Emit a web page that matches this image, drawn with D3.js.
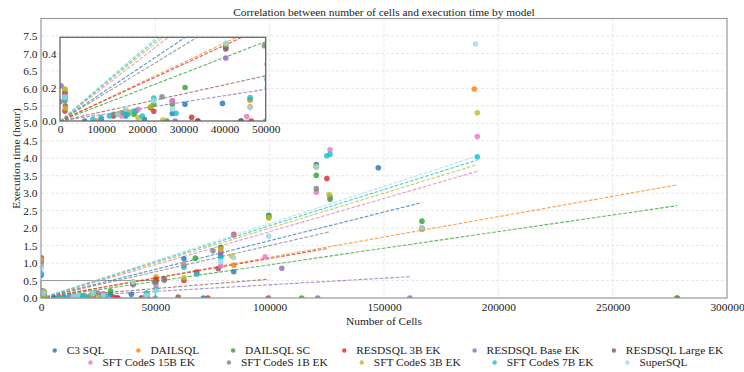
<!DOCTYPE html>
<html>
<head>
<meta charset="utf-8">
<script src="https://cdn.jsdelivr.net/npm/d3@7"></script>
<style>
  html, body { margin: 0; padding: 0; background: #fff; }
  svg { display: block; }
  text { font-family: "Liberation Serif", "DejaVu Serif", serif; fill: #222; }
</style>
</head>
<body>
<svg id="chart" width="744" height="372"></svg>
<script>
// Models, in drawing / legend order
const models = [
  "C3 SQL", "DAILSQL", "DAILSQL SC", "RESDSQL 3B EK", "RESDSQL Base EK",
  "RESDSQL Large EK", "SFT CodeS 15B EK", "SFT CodeS 1B EK", "SFT CodeS 3B EK",
  "SFT CodeS 7B EK", "SuperSQL"
];
const colors = [
  "#1f77b4", "#ff7f0e", "#2ca02c", "#d62728", "#9467bd",
  "#8c564b", "#e377c2", "#7f7f7f", "#bcbd22", "#17becf", "#9edae5"
];

// [number of cells, execution time in hours] for each model
const c3Sql = [[100,0.65],[1200,0.14],[6000,0],[10000,0.01],[16000,0.03],[20500,0.01],[27300,0.045],
  [30400,0.10],[33500,0],[39500,0.105],[40300,0.44],[44000,0],[62500,1.12],[71000,0],[78600,1.20],
  [84300,0.75],[99600,2.37],[120400,3.82],[147500,3.73],[166600,2.0]];
const dailSql = [[100,1.1],[1200,0.19],[9000,0],[15000,0.05],[22000,0.08],[46200,0.085],[50300,0.60],
  [62500,0.95],[78600,1.35],[84300,0.94],[99600,2.30],[120400,3.75],[166600,1.97],[189500,5.98],[278200,0]];
const dailSqlSc = [[100,1.05],[1200,0.17],[18000,0.04],[22800,0.10],[26000,0],[27300,0.10],[30400,0.20],
  [50300,0.45],[67500,1.14],[99600,2.33],[114000,0],[120400,3.51],[126400,2.83],[166600,2.20],[278200,0]];
const resdsql3b = [[100,1.15],[1200,0.06],[13000,0.03],[16000,0.06],[22800,0.058],[32000,0.022],
  [33500,0],[46500,0],[50300,0.53],[62500,0.50],[68100,0.74],[73000,0],[125000,3.42]];
const resdsqlBase = [[250,0.21],[0,0.115],[18500,0.06],[27300,0.12],[28000,0],[40300,0.376],
  [78600,1.28],[105300,0.85],[121000,0],[161300,0]];
const resdsqlLarge = [[1200,0.165],[1300,0.09],[14000,0.04],[22000,0.08],[40300,0.43],[44000,0],
  [46200,0.125],[53900,0.55],[60000,0.03],[77500,0.84],[78600,1.45],[84300,1.82],[99400,0]];
const sftCodes15b = [[100,0.93],[1200,0.15],[15000,0.03],[19000,0.07],[27300,0.115],[45400,0.026],
  [50300,0.34],[62500,0.94],[78600,0.92],[84300,1.80],[98000,1.18],[120400,3.03],[126400,4.24],[190800,4.62]];
const sftCodes1b = [[100,1.05],[1200,0.12],[13000,0.04],[24800,0.145],[40300,0.45],[49700,0.45],
  [53900,0.50],[75200,1.35],[120400,3.13],[126400,2.90]];
const sftCodes3b = [[100,1.1],[1200,0.19],[1300,0.076],[17000,0.05],[19000,0.02],[22000,0.085],
  [25000,0.005],[40300,0.46],[46200,0.13],[62500,0.58],[78600,1.40],[83500,1.20],[99600,2.30],
  [120400,3.76],[126000,2.96],[190800,5.30]];
const sftCodes7b = [[100,0.70],[1200,0.135],[8000,0.01],[10000,0.02],[12000,0.03],[15500,0.05],
  [16500,0.04],[18000,0.06],[20000,0.03],[22800,0.137],[28200,0.046],[46200,0.14],[50000,0],
  [50300,0.25],[62500,0.88],[68100,0.68],[78600,1.15],[125000,4.07],[126400,4.11],[190800,4.04]];
const superSql = [[100,0.85],[1200,0.14],[14000,0.04],[16000,0.07],[22800,0.12],[27300,0.072],
  [40300,0.465],[46200,0.08],[50300,0.20],[78600,1.06],[84300,1.15],[99600,1.77],[120400,3.74],
  [166600,2.01],[190000,7.27]];

const seriesPoints = [c3Sql, dailSql, dailSqlSc, resdsql3b, resdsqlBase, resdsqlLarge,
  sftCodes15b, sftCodes1b, sftCodes3b, sftCodes7b, superSql];

// Linear trend per model: slope (hours per cell) and last x covered by the fit
const trendSlope = [1.64e-5, 1.164e-5, 9.5e-6, 1.13e-5, 3.78e-6, 5.4e-6, 1.90e-5, 1.50e-5, 2.00e-5, 2.07e-5, 2.13e-5];
const trendEnd = [166600, 278200, 278200, 125000, 161300, 99400, 190800, 126400, 190800, 190800, 190800];

// Axis tick values
const xTicks = [0, 50000, 100000, 150000, 200000, 250000, 300000];
const yTicks = d3.range(0, 7.51, 0.5);
const insetXTicks = [0, 10000, 20000, 30000, 40000, 50000];
const insetYTicks = [0, 0.2, 0.4];

const FONT = "11.4px";
const svg = d3.select("#chart");

// Main axes frame
const M = { left: 41, right: 727, top: 18.5, bottom: 298 };
const x = d3.scaleLinear().domain([0, 300000]).range([M.left, M.right]);
const y = d3.scaleLinear().domain([0, 8]).range([M.bottom, M.top]);

// Inset frame (zoom on the low-cell corner)
const I = { left: 60, right: 265.7, top: 37.3, bottom: 121 };
const xi = d3.scaleLinear().domain([0, 50000]).range([I.left, I.right]);
const yi = d3.scaleLinear().domain([0, 0.5]).range([I.bottom, I.top]);

const defs = svg.append("defs");
defs.append("clipPath").attr("id", "clipMain").append("rect")
  .attr("x", M.left).attr("y", M.top).attr("width", M.right - M.left).attr("height", M.bottom - M.top);
defs.append("clipPath").attr("id", "clipInset").append("rect")
  .attr("x", I.left).attr("y", I.top).attr("width", I.right - I.left).attr("height", I.bottom - I.top);

// Grid
const grid = svg.append("g");
grid.selectAll("line.gx").data(xTicks.slice(1, -1)).join("line")
  .attr("x1", d => x(d)).attr("x2", d => x(d)).attr("y1", M.top).attr("y2", M.bottom)
  .attr("stroke", "#e0e0e0").attr("stroke-width", 0.8).attr("stroke-dasharray", "3,2");
grid.selectAll("line.gy").data(yTicks.slice(1)).join("line")
  .attr("y1", d => y(d)).attr("y2", d => y(d)).attr("x1", M.left).attr("x2", M.right)
  .attr("stroke", "#e0e0e0").attr("stroke-width", 0.8).attr("stroke-dasharray", "3,2");

// Region shown by the inset
svg.append("rect")
  .attr("x", x(0)).attr("y", y(0.5)).attr("width", x(50000) - x(0)).attr("height", y(0) - y(0.5))
  .attr("fill", "none").attr("stroke", "#9a9a9a").attr("stroke-width", 1);

function drawSeries(g, sx, sy) {
  seriesPoints.forEach((pts, i) => {
    g.append("line")
      .attr("x1", sx(0)).attr("y1", sy(0))
      .attr("x2", sx(trendEnd[i])).attr("y2", sy(trendSlope[i] * trendEnd[i]))
      .attr("stroke", colors[i]).attr("stroke-width", 1.1).attr("stroke-opacity", 0.75)
      .attr("stroke-dasharray", "3.7,1.6");
  });
  seriesPoints.forEach((pts, i) => {
    g.selectAll(null).data(pts).join("circle")
      .attr("cx", d => sx(d[0])).attr("cy", d => sy(d[1])).attr("r", 2.8)
      .attr("fill", colors[i]).attr("fill-opacity", 0.8);
  });
}

const mainG = svg.append("g").attr("clip-path", "url(#clipMain)");
drawSeries(mainG, x, y);

// Main border and axes
svg.append("rect").attr("x", M.left).attr("y", M.top)
  .attr("width", M.right - M.left).attr("height", M.bottom - M.top)
  .attr("fill", "none").attr("stroke", "#9a9a9a").attr("stroke-width", 1.2);

const xAxis = svg.append("g").attr("transform", `translate(0,${M.bottom})`)
  .call(d3.axisBottom(x).tickValues(xTicks).tickFormat(d3.format("d")).tickSize(0).tickPadding(5));
const yAxis = svg.append("g").attr("transform", `translate(${M.left},0)`)
  .call(d3.axisLeft(y).tickValues(yTicks).tickFormat(d3.format(".1f")).tickSize(0).tickPadding(3.5));
[xAxis, yAxis].forEach(a => {
  a.select(".domain").remove();
  a.selectAll("text").style("font-family", '"Liberation Serif", serif').style("font-size", FONT).attr("fill", "#333");
});

// Inset
svg.append("rect").attr("x", I.left).attr("y", I.top)
  .attr("width", I.right - I.left).attr("height", I.bottom - I.top).attr("fill", "#fff");
const insetG = svg.append("g").attr("clip-path", "url(#clipInset)");
drawSeries(insetG, xi, yi);
svg.append("rect").attr("x", I.left).attr("y", I.top)
  .attr("width", I.right - I.left).attr("height", I.bottom - I.top)
  .attr("fill", "none").attr("stroke", "#666").attr("stroke-width", 1.3);
const xiAxis = svg.append("g").attr("transform", `translate(0,${I.bottom})`)
  .call(d3.axisBottom(xi).tickValues(insetXTicks).tickFormat(d3.format("d")).tickSize(0).tickPadding(3.5));
const yiAxis = svg.append("g").attr("transform", `translate(${I.left},0)`)
  .call(d3.axisLeft(yi).tickValues(insetYTicks).tickFormat(d3.format(".1f")).tickSize(0).tickPadding(3.5));
[xiAxis, yiAxis].forEach(a => {
  a.select(".domain").remove();
  a.selectAll("text").style("font-family", '"Liberation Serif", serif').style("font-size", FONT).attr("fill", "#333");
});

// Titles
svg.append("text").attr("x", 384).attr("y", 15.5).attr("text-anchor", "middle")
  .style("font-size", FONT).text("Correlation between number of cells and execution time by model");
svg.append("text").attr("x", 384).attr("y", 325).attr("text-anchor", "middle")
  .style("font-size", FONT).text("Number of Cells");
svg.append("text").attr("transform", "translate(19.5,158.5) rotate(-90)").attr("text-anchor", "middle")
  .style("font-size", FONT).text("Execution time (hour)");

// Legend: two centred rows
const legendRows = [models.slice(0, 6).map((m, k) => k), models.slice(6).map((m, k) => k + 6)];
const rowY = [350.5, 362.5];
legendRows.forEach((row, r) => {
  const g = svg.append("g");
  const items = row.map(i => {
    const it = g.append("g");
    it.append("circle").attr("cx", 0).attr("cy", 0).attr("r", 2.2)
      .attr("fill", colors[i]).attr("fill-opacity", 0.8);
    const t = it.append("text").attr("x", 12).attr("y", 3.8).style("font-size", FONT).text(models[i]);
    return { it, w: 12 + t.node().getComputedTextLength() };
  });
  const gap = 34;
  const total = d3.sum(items, d => d.w) + gap * (items.length - 1);
  let cx = 389 - total / 2;
  items.forEach(d => { d.it.attr("transform", `translate(${cx},${rowY[r]})`); cx += d.w + gap; });
});
</script>
</body>
</html>
